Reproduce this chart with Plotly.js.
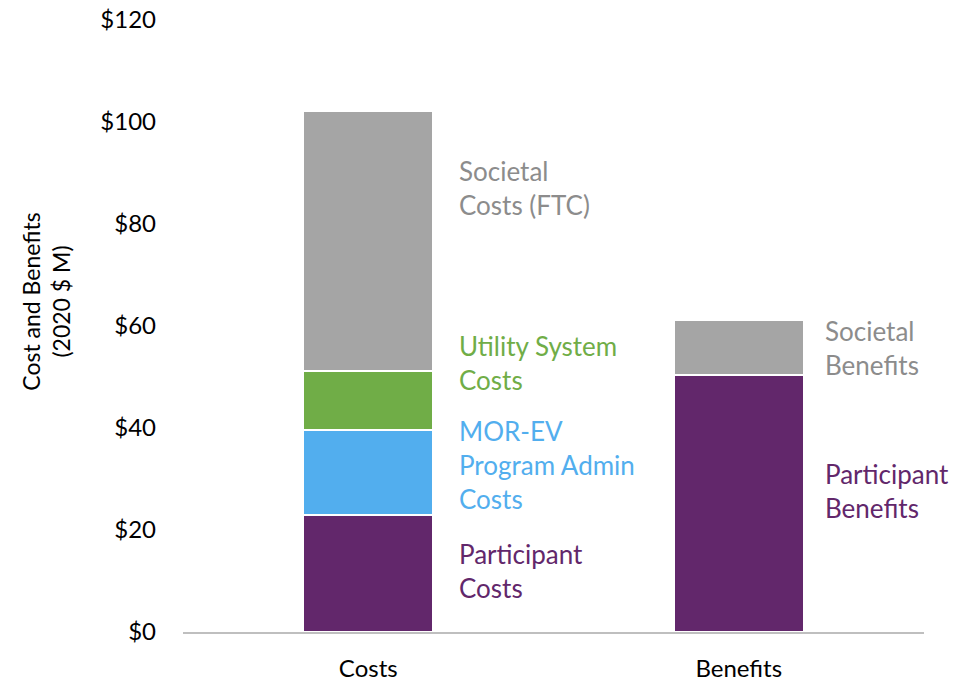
<!DOCTYPE html>
<html>
<head>
<meta charset="utf-8">
<script src="https://cdn.plot.ly/plotly-3.0.1.min.js"></script>
<style>html,body{margin:0;padding:0;background:#fff;}#chart{width:955px;height:686px;}</style>
</head>
<body>
<div id="chart"></div>
<script>
// Data
const categories = ["Costs", "Benefits"];
const participant = [23.0, 50.3];
const programAdmin = [16.7, 0];
const utilitySystem = [11.4, 0];
const societal = [51.0, 10.9];
const yTickVals = [0, 20, 40, 60, 80, 100, 120];
const yTickText = ["$0", "$20", "$40", "$60", "$80", "$100", "$120"];

const segLabels = [
  {cat: "Costs", y: 87, text: "Societal<br>Costs (FTC)", color: "#8c8c8c"},
  {cat: "Costs", y: 52.7, text: "Utility System<br>Costs", color: "#70ad47"},
  {cat: "Costs", y: 32.7, text: "MOR-EV<br>Program Admin<br>Costs", color: "#52aeee"},
  {cat: "Costs", y: 11.9, text: "Participant<br>Costs", color: "#62276b"},
  {cat: "Benefits", y: 55.6, text: "Societal<br>Benefits", color: "#8c8c8c"},
  {cat: "Benefits", y: 27.6, text: "Participant<br>Benefits", color: "#62276b"}
];

const FONT = "Lato, 'Open Sans', sans-serif";
const line = {color: "#ffffff", width: 2};
const traces = [
  {name: "Participant", y: participant, color: "#62276b"},
  {name: "MOR-EV Program Admin", y: programAdmin, color: "#52aeee"},
  {name: "Utility System", y: utilitySystem, color: "#70ad47"},
  {name: "Societal", y: societal, color: "#a5a5a5"}
].map(t => ({
  type: "bar", x: categories, y: t.y, name: t.name,
  marker: {color: t.color, line: line}, hoverinfo: "skip"
}));

const annotations = segLabels.map(l => ({
  x: l.cat, y: l.y, xref: "x", yref: "y",
  xanchor: "left", yanchor: "middle", align: "left",
  xshift: l.cat === "Costs" ? 89 : 84,
  text: l.text, showarrow: false,
  font: {family: FONT, size: 26, color: l.color}
}));
annotations.push({
  xref: "paper", yref: "paper", x: -0.186, y: 0.54,
  xanchor: "center", yanchor: "middle", textangle: -90,
  text: "Cost and Benefits<br>(2020 $ M)", showarrow: false,
  font: {family: FONT, size: 23, color: "#000"}
});

const layout = {
  width: 955, height: 686,
  margin: {l: 183, r: 31, t: 20, b: 54},
  barmode: "stack", bargap: 0.65,
  showlegend: false,
  paper_bgcolor: "#fff", plot_bgcolor: "#fff",
  font: {family: FONT, size: 24, color: "#000"},
  xaxis: {
    type: "category", range: [-0.5, 1.5], autorange: false,
    showline: true, linecolor: "#bfbfbf", linewidth: 2,
    ticks: "", ticklabelstandoff: 14,
    tickfont: {family: FONT, size: 24, color: "#000"},
    fixedrange: true
  },
  yaxis: {
    range: [0, 120], tickvals: yTickVals, ticktext: yTickText,
    showgrid: false, zeroline: false, showline: false, ticks: "",
    ticklabelstandoff: 26,
    tickfont: {family: FONT, size: 24, color: "#000"},
    fixedrange: true
  },
  annotations: annotations
};

Plotly.newPlot("chart", traces, layout, {displayModeBar: false, staticPlot: true});
</script>
</body>
</html>
